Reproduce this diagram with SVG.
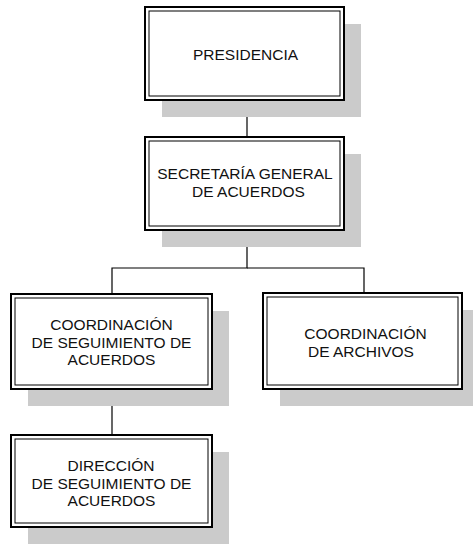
<svg xmlns="http://www.w3.org/2000/svg" width="473" height="544" viewBox="0 0 473 544">
<style>
.sh{fill:#cbcbcb;stroke:none}
.ob{fill:#fff;stroke:#000;stroke-width:2}
.ib{fill:none;stroke:#000;stroke-width:1}
.t{font-family:"Liberation Sans",Arial,sans-serif;font-size:15.5px;fill:#111;text-anchor:middle}
.c{fill:none;stroke:#000;stroke-width:1.2}
</style>
<rect width="473" height="544" fill="#fff"/>
<g id="connectors">
<path class="c" d="M247 100V137"/>
<path class="c" d="M247 230V268H112V294"/>
<path class="c" d="M247 268H364V293"/>
<path class="c" d="M112 389V435"/>
</g>
<g id="presidencia">
<rect class="sh" x="162" y="24" width="199" height="93"/>
<rect class="ob" x="145" y="7" width="199" height="93"/>
<rect class="ib" x="149" y="11" width="191" height="85"/>
<text class="t" x="245.5" y="60">PRESIDENCIA</text>
</g>
<g id="secretaria">
<rect class="sh" x="162" y="154" width="199" height="93"/>
<rect class="ob" x="145" y="137" width="199" height="93"/>
<rect class="ib" x="149" y="141" width="191" height="85"/>
<text class="t" x="245" y="179">SECRETARÍA GENERAL</text>
<text class="t" x="248.5" y="197">DE ACUERDOS</text>
</g>
<g id="coord-seguimiento">
<rect class="sh" x="28" y="311" width="201" height="95"/>
<rect class="ob" x="11" y="294" width="201" height="95"/>
<rect class="ib" x="15" y="298" width="193" height="87"/>
<text class="t" x="111.5" y="330">COORDINACIÓN</text>
<text class="t" x="111.5" y="347.5">DE SEGUIMIENTO DE</text>
<text class="t" x="111.5" y="365">ACUERDOS</text>
</g>
<g id="coord-archivos">
<rect class="sh" x="280" y="310" width="199" height="96"/>
<rect class="ob" x="263" y="293" width="199" height="96"/>
<rect class="ib" x="267" y="297" width="191" height="88"/>
<text class="t" x="365.5" y="339">COORDINACIÓN</text>
<text class="t" x="361" y="357">DE ARCHIVOS</text>
</g>
<g id="direccion">
<rect class="sh" x="28" y="452" width="201" height="92"/>
<rect class="ob" x="11" y="435" width="201" height="92"/>
<rect class="ib" x="15" y="439" width="193" height="84"/>
<text class="t" x="111" y="471">DIRECCIÓN</text>
<text class="t" x="111.5" y="488.5">DE SEGUIMIENTO DE</text>
<text class="t" x="111.5" y="506">ACUERDOS</text>
</g>
</svg>
